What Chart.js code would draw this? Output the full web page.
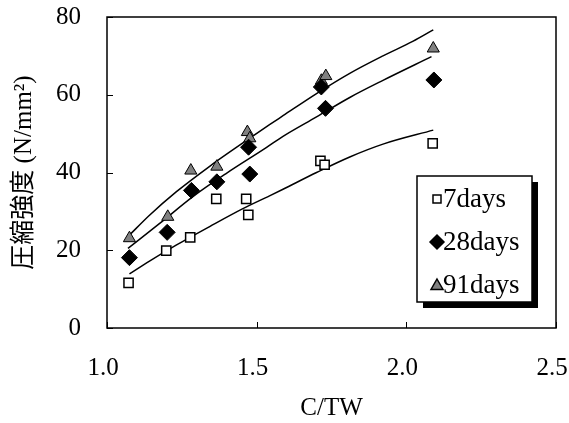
<!DOCTYPE html>
<html>
<head>
<meta charset="utf-8">
<script src="https://cdn.jsdelivr.net/npm/chart.js@4.4.0/dist/chart.umd.min.js"></script>
<style>
  body { margin: 0; background: #fff; }
  canvas { display: block; }
</style>
</head>
<body>
<canvas id="strengthChart" width="569" height="423"></canvas>
<script>
// measured points (C/TW vs compressive strength)
const ctw7 = [1.072, 1.198, 1.278, 1.365, 1.465, 1.472, 1.713, 1.727, 2.088];
const str7 = [11.6, 19.9, 23.3, 33.2, 33.2, 29.1, 43.0, 42.0, 47.5];

const ctw28 = [1.075, 1.201, 1.282, 1.367, 1.473, 1.477, 1.716, 1.730, 2.092];
const str28 = [18.1, 24.6, 35.4, 37.6, 46.5, 39.6, 62.0, 56.5, 63.8];

const ctw91 = [1.075, 1.203, 1.280, 1.367, 1.469, 1.477, 1.716, 1.731, 2.090];
const str91 = [23.1, 28.6, 40.5, 41.5, 50.4, 48.8, 63.6, 64.8, 71.9];

// fitted curves
const fitX7 = [1.075, 1.142, 1.231, 1.343, 1.454, 1.543, 1.588, 1.700, 1.811, 1.922, 2.090];
const fitY7 = [13.9, 17.2, 21.3, 26.1, 30.7, 34.0, 35.7, 40.0, 44.0, 47.3, 50.9];

const fitX28 = [1.070, 1.176, 1.287, 1.399, 1.532, 1.588, 1.700, 1.811, 1.922, 2.084];
const fitY28 = [20.5, 26.9, 33.8, 39.8, 46.4, 49.3, 54.3, 59.3, 63.7, 69.8];

const fitX91 = [1.075, 1.142, 1.231, 1.343, 1.454, 1.543, 1.588, 1.700, 1.811, 1.922, 2.023, 2.090];
const fitY91 = [23.9, 29.0, 35.0, 41.6, 47.6, 52.3, 54.6, 60.3, 65.5, 70.0, 73.8, 76.7];

const xTicks = [1.0, 1.5, 2.0, 2.5];
const yTicks = [0, 20, 40, 60, 80];

const serif = '"Liberation Serif", "Times New Roman", serif';

function pts(xs, ys) {
    return xs.map((x, i) => ({ x: x, y: ys[i] }));
}

function markerSet(label, xs, ys, style, radius, fill, border) {
    return {
        label: label,
        data: pts(xs, ys),
        showLine: false,
        pointStyle: style,
        pointRadius: radius,
        backgroundColor: fill,
        borderColor: '#000',
        borderWidth: border,
        order: 1
    };
}

function fitLine(xs, ys) {
    return {
        label: '',
        data: pts(xs, ys),
        showLine: true,
        pointRadius: 0,
        borderColor: '#000',
        borderWidth: 1.5,
        fill: false,
        cubicInterpolationMode: 'monotone',
        order: 2
    };
}

// frame around plot area + inward tick marks
const framePlugin = {
    id: 'frame',
    afterDatasetsDraw(chart) {
        const ctx = chart.ctx;
        const a = chart.chartArea;
        const xs = chart.scales.x, ys = chart.scales.y;
        ctx.save();
        ctx.strokeStyle = '#000';
        ctx.lineWidth = 1.5;
        ctx.strokeRect(a.left, a.top, a.right - a.left, a.bottom - a.top);
        ctx.lineWidth = 1;
        ctx.beginPath();
        yTicks.forEach(v => {
            const py = Math.round(ys.getPixelForValue(v)) + 0.5;
            ctx.moveTo(a.left, py);
            ctx.lineTo(a.left + 6, py);
        });
        xTicks.forEach(v => {
            const px = Math.round(xs.getPixelForValue(v)) + 0.5;
            ctx.moveTo(px, a.bottom);
            ctx.lineTo(px, a.bottom - 6);
        });
        ctx.stroke();
        ctx.restore();
    }
};

// boxed legend with drop shadow, inside the plot
const legendPlugin = {
    id: 'boxLegend',
    afterDraw(chart) {
        const ctx = chart.ctx;
        const box = { x: 417, y: 176, w: 115, h: 126 };
        ctx.save();
        ctx.fillStyle = '#000';
        ctx.fillRect(box.x + 6, box.y + 6, box.w, box.h);
        ctx.fillStyle = '#fff';
        ctx.fillRect(box.x, box.y, box.w, box.h);
        ctx.strokeStyle = '#000';
        ctx.lineWidth = 1.5;
        ctx.strokeRect(box.x, box.y, box.w, box.h);

        const items = chart.data.datasets.filter(d => d.label);
        ctx.font = '27px ' + serif;
        ctx.textBaseline = 'middle';
        ctx.textAlign = 'left';
        items.forEach((d, i) => {
            const cy = box.y + 23 + i * 43;
            const cx = box.x + 20;
            ctx.beginPath();
            if (d.pointStyle === 'rect') {
                ctx.rect(cx - 4, cy - 4, 8, 8);
            } else if (d.pointStyle === 'rectRot') {
                ctx.moveTo(cx - 7, cy);
                ctx.lineTo(cx, cy - 7);
                ctx.lineTo(cx + 7, cy);
                ctx.lineTo(cx, cy + 7);
                ctx.closePath();
            } else {
                ctx.moveTo(cx, cy - 6);
                ctx.lineTo(cx + 6, cy + 4.5);
                ctx.lineTo(cx - 6, cy + 4.5);
                ctx.closePath();
            }
            ctx.fillStyle = d.backgroundColor;
            ctx.fill();
            ctx.lineWidth = 1.5;
            ctx.strokeStyle = '#000';
            ctx.stroke();
            ctx.fillStyle = '#000';
            ctx.fillText(d.label, box.x + 26, cy + 1);
        });
        ctx.restore();
    }
};

new Chart(document.getElementById('strengthChart'), {
    type: 'scatter',
    data: {
        datasets: [
            markerSet('7days', ctw7, str7, 'rect', 6.5, '#fff', 1.5),
            markerSet('28days', ctw28, str28, 'rectRot', 8, '#000', 1),
            markerSet('91days', ctw91, str91, 'triangle', 7, '#808080', 1),
            fitLine(fitX7, fitY7),
            fitLine(fitX28, fitY28),
            fitLine(fitX91, fitY91)
        ]
    },
    options: {
        responsive: false,
        animation: false,
        events: [],
        layout: { padding: { top: 17, right: 13, left: 0, bottom: 0 } },
        plugins: {
            legend: { display: false },
            tooltip: { enabled: false }
        },
        scales: {
            x: {
                type: 'linear',
                min: 1.0,
                max: 2.5,
                afterBuildTicks: scale => { scale.ticks = xTicks.map(v => ({ value: v })); },
                afterFit: scale => {
                    scale.height = 95;
                    scale.paddingLeft = 0;
                    scale.paddingRight = 0;
                },
                ticks: {
                    color: '#000',
                    padding: 25,
                    labelOffset: -4,
                    font: { family: serif, size: 25 },
                    callback: v => v.toFixed(1)
                },
                grid: { display: false, drawTicks: false },
                border: { display: false },
                title: {
                    display: true,
                    text: 'C/TW',
                    color: '#000',
                    font: { family: serif, size: 25 },
                    padding: { top: 0, bottom: 0 }
                }
            },
            y: {
                min: 0,
                max: 80,
                afterBuildTicks: scale => { scale.ticks = yTicks.map(v => ({ value: v })); },
                afterFit: scale => {
                    scale.width = 107;
                    scale.paddingTop = 0;
                    scale.paddingBottom = 0;
                },
                ticks: {
                    color: '#000',
                    padding: 26,
                    font: { family: serif, size: 25 }
                },
                grid: { display: false, drawTicks: false },
                border: { display: false },
                title: {
                    display: true,
                    text: '圧縮強度 (N/mm²)',
                    color: '#000',
                    font: { family: '"Liberation Serif", "Noto Sans CJK JP", serif', size: 25 },
                    padding: { top: 9, bottom: 0 }
                }
            }
        }
    },
    plugins: [framePlugin, legendPlugin]
});
</script>
</body>
</html>
